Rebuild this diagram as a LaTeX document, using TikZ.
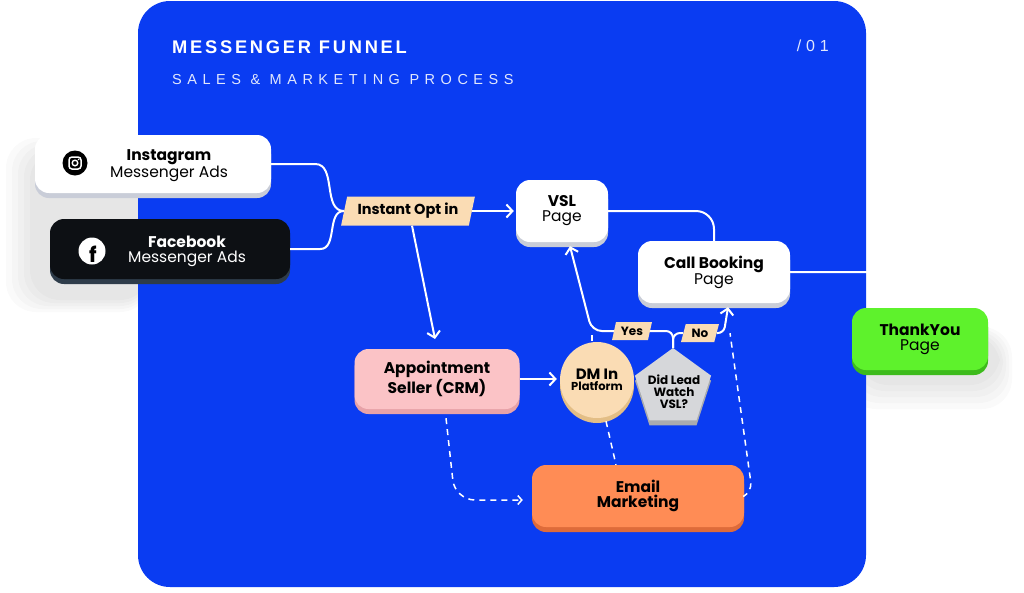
\documentclass[tikz,border=0pt]{standalone}
\usepackage{fontspec}
\setmainfont{Poppins}
\newfontfamily\titlefont{Liberation Sans}
\usetikzlibrary{shapes.geometric,arrows.meta,shadows,calc}
\definecolor{panelblue}{HTML}{0A3CF2}
\definecolor{peach}{HTML}{FADCB4}
\definecolor{peachedge}{HTML}{E3BE86}
\definecolor{pinkbox}{HTML}{FBC3C6}
\definecolor{pinkedge}{HTML}{E7A2A8}
\definecolor{orangebox}{HTML}{FF8C55}
\definecolor{orangeedge}{HTML}{DE6B3A}
\definecolor{greenbox}{HTML}{5EF22C}
\definecolor{greenedge}{HTML}{3DBB1C}
\definecolor{blackbox}{HTML}{0D1014}
\definecolor{blackedge}{HTML}{2E3C4A}
\definecolor{whiteedge}{HTML}{C9CDD8}
\definecolor{greybox}{HTML}{D6D7DA}
\definecolor{greyedge}{HTML}{A9ABAF}
\begin{document}
\begin{tikzpicture}[x=1pt,y=-1pt,
  conn/.style={draw=white, line width=2pt},
  dconn/.style={draw=white, line width=1.5pt, dash pattern=on 6pt off 5pt},
  arr/.style={-{Straight Barb[length=6pt,width=13pt,line width=2pt]}},
  darr/.style={-{Straight Barb[length=4pt,width=9pt,line width=1.5pt]}},
  box/.style={rounded corners=14pt, inner sep=0pt, align=center},
  edge/.style={drop shadow={shadow xshift=0pt, shadow yshift=-5pt, fill=#1, opacity=1}},
  txt/.style={align=center, inner sep=0pt, font=\fontsize{15.5}{15}\selectfont},
  small/.style={align=center, inner sep=0pt, font=\bfseries\fontsize{12}{12}\selectfont},
  tag/.style={trapezium, trapezium left angle=72, trapezium right angle=108, trapezium stretches=true, fill=peach, inner sep=0pt},
  soft/.style={fill=black, opacity=0.018, rounded corners=30pt}
]
\useasboundingbox (0,0) rectangle (1024,592);
% soft shadows on white
\foreach \d in {0,6,12,18,24}{
  \fill[soft] (30-\d,150-\d/2) rectangle (150,300+\d/2);
  \fill[soft] (858-\d/2,335-\d/3) rectangle (1000+\d/2,385+\d);
}
% panel
\fill[panelblue, rounded corners=32pt] (138,1) rectangle (866,587);
% titles
\node[anchor=west, inner sep=0pt, text=white, font=\titlefont\bfseries\fontsize{18.3}{18}\selectfont\addfontfeatures{LetterSpace=15}] (title) at (172,47) {MESSENGER FUNNEL};
\node[anchor=west, inner sep=0pt, text=white!88!panelblue, font=\titlefont\fontsize{14.5}{15}\selectfont\addfontfeatures{LetterSpace=38}] (subtitle) at (172,80) {SALES \& MARKETING PROCESS};
\node[anchor=east, inner sep=0pt, text=white!88!panelblue, font=\titlefont\fontsize{16}{16}\selectfont\addfontfeatures{LetterSpace=30}] (num) at (829,46) {/01};

% nodes
\node[box, fill=white, edge=whiteedge, minimum width=236pt, minimum height=58pt] (ig) at (153,164) {};
\node[circle, fill=black, minimum size=25pt, inner sep=0pt] (igicon) at (75,163) {};
\draw[white, line width=1.5pt, rounded corners=3pt] ($(igicon.center)+(-6,-6)$) rectangle ($(igicon.center)+(6,6)$);
\draw[white, line width=1.4pt] (igicon.center) circle (2.8pt);
\fill[white] ($(igicon.center)+(3.6,-3.6)$) circle (0.9pt);
\node[txt] (igt) at (169,166) {\textbf{Instagram}\\Messenger Ads};

\node[box, fill=blackbox, edge=blackedge, minimum width=240pt, minimum height=60pt] (fb) at (170,249) {};
\node[circle, fill=white, minimum size=27pt, inner sep=0pt] (fbicon) at (92,251) {};
\node[inner sep=0pt, font=\bfseries\fontsize{21}{21}\selectfont] (fbf) at ($(fbicon.center)+(1,3)$) {f};
\node[txt, text=white] (fbt) at (187,251) {\textbf{Facebook}\\Messenger Ads};

\node[tag, minimum width=134pt, minimum height=29pt, font=\bfseries\fontsize{14.5}{14}\selectfont] (opt) at (408,211) {Instant Opt in};

\node[box, fill=white, edge=whiteedge, minimum width=92pt, minimum height=62pt, txt] (vsl) at (562,211) {\textbf{VSL}\\Page};
\node[box, fill=white, edge=whiteedge, minimum width=152pt, minimum height=62pt, txt] (cb) at (714,272) {\textbf{Call Booking}\\Page};
\node[box, fill=greenbox, edge=greenedge, minimum width=136pt, minimum height=62pt, txt] (ty) at (920,339) {\textbf{ThankYou}\\Page};
\node[box, fill=pinkbox, edge=pinkedge, minimum width=165pt, minimum height=60pt, txt, font=\bfseries\fontsize{15.5}{15}\selectfont] (appt) at (437,379) {Appointment\\Seller (CRM)};
\node[ellipse, fill=peach, edge=peachedge, minimum width=74pt, minimum height=76pt, inner sep=0pt, align=center] (dm) at (597,380) {{\bfseries\fontsize{15}{14}\selectfont DM In}\\[-1pt]{\bfseries\fontsize{11.5}{11}\selectfont Platform}};
\node[regular polygon, regular polygon sides=5, fill=greybox, edge=greyedge, minimum size=80pt, inner sep=0pt] (pent) at (673,388) {};
\node[small] (pentt) at (674,392) {Did Lead\\Watch\\VSL?};
\node[box, fill=orangebox, edge=orangeedge, minimum width=212pt, minimum height=62pt, txt, font=\bfseries\fontsize{15.5}{15}\selectfont] (email) at (638,496) {Email\\Marketing};
\node[tag, minimum width=40pt, minimum height=18pt, font=\bfseries\fontsize{12}{12}\selectfont] (yes) at (632,331) {Yes};
\node[tag, minimum width=38pt, minimum height=18pt, font=\bfseries\fontsize{12}{12}\selectfont] (no) at (700,333) {No};

% connectors
\draw[conn] (ig.east) -- ++(44,0) to[out=0,in=180] (opt.west);
\draw[conn] (fb.east) -- ++(30,0) to[out=0,in=180] (opt.west);
\draw[conn, arr, shorten >=2pt] (opt.east) -- (opt.east -| vsl.west);
\draw[conn, arr, shorten >=10pt] ($(opt.south)+(4,0)$) -- (appt.north);
\draw[conn, rounded corners=18pt] (vsl.east) -| (cb.north);
\draw[conn, rounded corners=20pt] (cb.east) -| (ty.north);
\draw[conn, arr, shorten >=3pt] (appt.east) -- (appt.east -| dm.west);
\draw[conn, rounded corners=7pt] (pent.north) |- (yes.east);
\draw[conn, rounded corners=7pt] (pent.north) |- (no.west);
\draw[conn, arr, rounded corners=10pt] (yes.west) -- ++(-22,0) -- ($(vsl.south)+(8,4)$);
\draw[conn, arr, rounded corners=6pt] (no.east) -- ++(7,0) -- ($(cb.south)+(14,4)$);
% dashed
\draw[dconn, darr, rounded corners=20pt, shorten >=9pt] ($(appt.south)+(9,9)$) -- ($(appt.south |- email.west)+(18,4)$) -- ($(email.west)+(0,4)$);
\draw[dconn] ($(dm.south)+(9,3)$) -- ($(email.north)+(-22,0)$);
\draw[dconn] ($(dm.north)+(-5,-1)$) -- ($(dm.north |- yes.west)+(-5,0)$);
\draw[dconn, rounded corners=10pt] (email.east) -- ++(8,-4) -- ($(cb.south)+(16,30)$);
\end{tikzpicture}
\end{document}
